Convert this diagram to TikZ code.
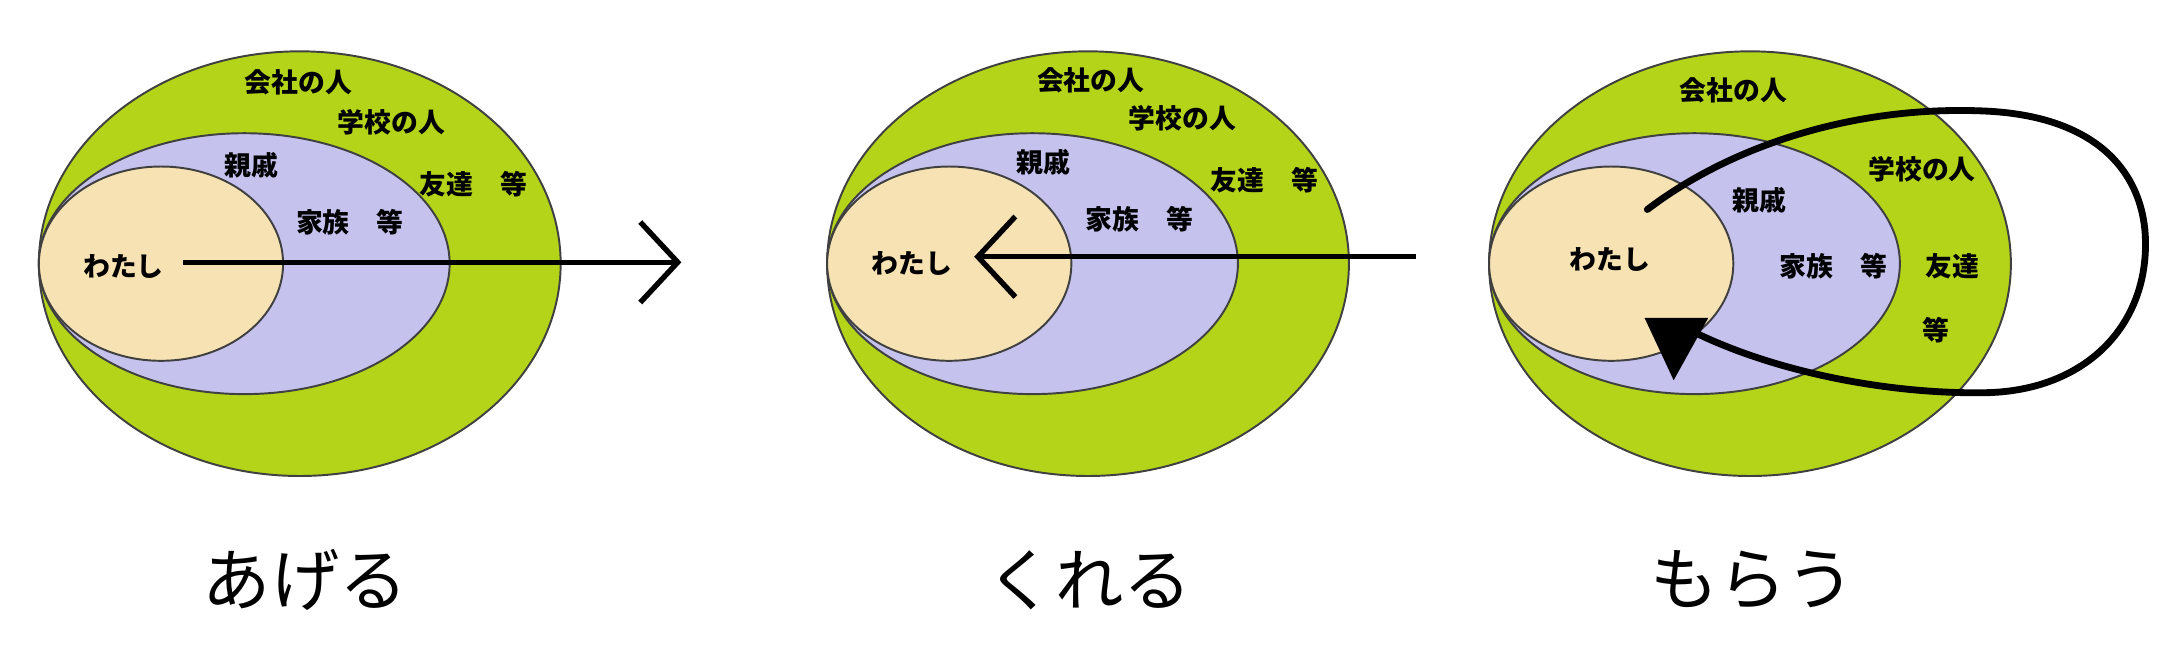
\documentclass[tikz,border=0pt]{standalone}
\usepackage{fontspec}
\setmainfont{Noto Sans CJK JP}
\usetikzlibrary{arrows.meta}
\definecolor{soto}{HTML}{B4D419}
\definecolor{uchi}{HTML}{C5C2EE}
\definecolor{jibun}{HTML}{F6E2B2}

\begin{document}
\begin{tikzpicture}[x=1cm,y=1cm,font=\fontsize{5.5}{6.5}\selectfont\bfseries,
 ring/.style={draw=black!75,line width=.4pt},
 ar/.style={-{Straight Barb[length=2.7mm,width=5.8mm]},line width=1.1pt},
 lab/.style={inner sep=0pt},
 verb/.style={font=\fontsize{14}{16}\selectfont,inner sep=0pt}]
\useasboundingbox (0,0) rectangle (15.68,4.68);
% (1) ageru
\filldraw[ring,fill=soto] (2.16,2.78) ellipse [x radius=1.88,y radius=1.53];
\filldraw[ring,fill=uchi] (1.76,2.78) ellipse [x radius=1.48,y radius=.94];
\filldraw[ring,fill=jibun] (1.16,2.78) ellipse [x radius=.88,y radius=.70];
\node[lab] (kaishaA) at (2.15,4.09) {会社の人};
\node[lab] (gakkoA) at (2.82,3.80) {学校の人};
\node[lab] (shinsekiA) at (1.81,3.49) {親戚};
\node[lab] (tomoA) at (3.41,3.35) {友達　等};
\node[lab] (kazokuA) at (2.52,3.08) {家族　等};
\node[lab] (watashiA) at (.89,2.76) {わたし};
\coordinate (ageS) at (1.32,2.79);
\coordinate (ageE) at (4.91,2.79);
\draw[ar] (ageS) -- (ageE);
\node[verb] (ageru) at (2.20,.50) {あげる};
% (2) kureru
\filldraw[ring,fill=soto] (7.84,2.78) ellipse [x radius=1.88,y radius=1.53];
\filldraw[ring,fill=uchi] (7.44,2.78) ellipse [x radius=1.48,y radius=.94];
\filldraw[ring,fill=jibun] (6.84,2.78) ellipse [x radius=.88,y radius=.70];
\node[lab] (kaishaB) at (7.86,4.10) {会社の人};
\node[lab] (gakkoB) at (8.52,3.83) {学校の人};
\node[lab] (shinsekiB) at (7.52,3.51) {親戚};
\node[lab] (tomoB) at (9.11,3.38) {友達　等};
\node[lab] (kazokuB) at (8.21,3.10) {家族　等};
\node[lab] (watashiB) at (6.57,2.78) {わたし};
\coordinate (kureS) at (10.20,2.83);
\coordinate (kureE) at (7.02,2.83);
\draw[ar] (kureS) -- (kureE);
\node[verb] (kureru) at (7.85,.50) {くれる};
% (3) morau
\filldraw[ring,fill=soto] (12.61,2.78) ellipse [x radius=1.88,y radius=1.53];
\filldraw[ring,fill=uchi] (12.21,2.78) ellipse [x radius=1.48,y radius=.94];
\filldraw[ring,fill=jibun] (11.61,2.78) ellipse [x radius=.88,y radius=.70];
\node[lab] (kaishaC) at (12.49,4.03) {会社の人};
\node[lab] (gakkoC) at (13.85,3.46) {学校の人};
\node[lab] (shinsekiC) at (12.68,3.24) {親戚};
\node[lab] (kazokuC) at (13.21,2.76) {家族　等};
\node[lab] (tomoC) at (14.07,2.76) {友達};
\node[lab] (touC) at (13.95,2.30) {等};
\node[lab] (watashiC) at (11.60,2.81) {わたし};
\coordinate (morauS) at (11.87,3.17);
\coordinate (morauE) at (12.22,2.28);
\draw[line width=1.4pt,line cap=round] (morauS) .. controls (12.5,3.65) and (13.4,3.92) .. (14.3,3.88)
 .. controls (15.2,3.84) and (15.47,3.35) .. (15.46,2.9)
 .. controls (15.45,2.3) and (15.0,1.86) .. (14.3,1.85)
 .. controls (13.6,1.84) and (12.8,2.0) .. (morauE);
\fill (11.85,2.39) -- (12.31,2.39) -- (12.06,1.94) -- cycle;
\node[verb] (morau) at (12.63,.50) {もらう};
\end{tikzpicture}
\end{document}
